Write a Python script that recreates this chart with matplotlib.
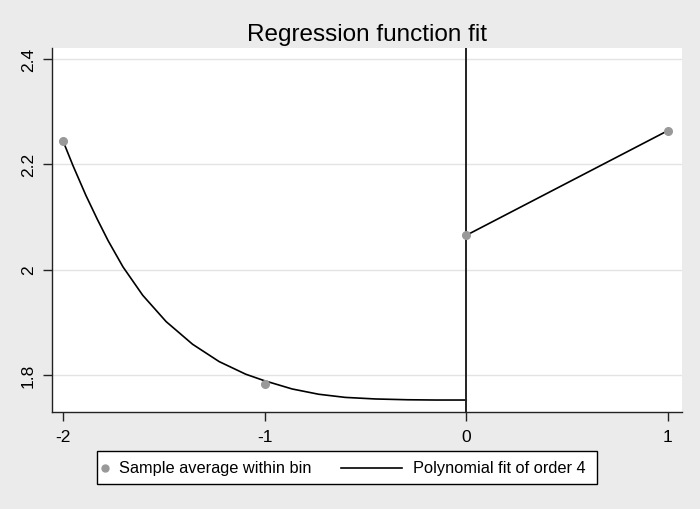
import matplotlib.pyplot as plt
from matplotlib.patches import Rectangle

plt.rcParams['font.family'] = ['Liberation Sans', 'DejaVu Sans']

# bin averages
bin_x = [-2, -1, 0, 1]
bin_y = [2.245, 1.782, 2.065, 2.264]

# polynomial fit, left of cutoff
fit_left_x = [-2, -1.95, -1.886, -1.83, -1.776, -1.702, -1.604, -1.488, -1.357,
              -1.225, -1.093, -1.003, -0.863, -0.732, -0.6, -0.45, -0.29, -0.15, 0]
fit_left_y = [2.245, 2.1975, 2.141, 2.096, 2.055, 2.005, 1.951, 1.901, 1.858,
              1.825, 1.801, 1.789, 1.773, 1.763, 1.757, 1.754, 1.7525, 1.752, 1.752]

# fit right of cutoff
fit_right_x = [0, 1]
fit_right_y = [2.065, 2.264]

xticks = [-2, -1, 0, 1]
yticks = [1.8, 2.0, 2.2, 2.4]
ytick_labels = ['1.8', '2', '2.2', '2.4']
legend_labels = ['Sample average within bin', 'Polynomial fit of order 4']

bg = '#ebebeb'
dot = '#999999'
fig = plt.figure(figsize=(7, 5.1), dpi=100, facecolor=bg)
ax = fig.add_axes([52 / 700, 1 - 412.6 / 510, 630 / 700, 363.6 / 510])
ax.set_facecolor('white')

for y in yticks:
    ax.axhline(y, color='#e3e3e3', lw=1.0, zorder=0)

ax.plot(fit_left_x, fit_left_y, color='black', lw=1.2, zorder=2)
ax.plot(fit_right_x, fit_right_y, color='black', lw=1.2, zorder=2)
ax.axvline(0, color='#222222', lw=1.4, zorder=2)
ax.plot(bin_x, bin_y, 'o', color=dot, ms=5.5, mec=dot, zorder=3, clip_on=False)

ax.set_xlim(-2.054, 1.07)
ax.set_ylim(1.73, 2.421)
ax.set_xticks(xticks)
ax.set_xticklabels([str(v) for v in xticks])
ax.set_yticks(yticks)
ax.set_yticklabels(ytick_labels, rotation=90, va='center')

for s in ['top', 'right']:
    ax.spines[s].set_visible(False)
for s in ['left', 'bottom']:
    ax.spines[s].set_color('#222222')
    ax.spines[s].set_linewidth(1.0)
ax.tick_params(direction='out', length=6.5, width=1.0, color='#222222',
               labelsize=12.5)
ax.tick_params(axis='x', pad=6)
ax.tick_params(axis='y', pad=5)

ax.set_title('Regression function fit', fontsize=17.5, pad=6)

# legend box drawn in pixel space, Stata style
lax = fig.add_axes([0, 0, 1, 1], zorder=-1)
lax.set_xlim(0, 700)
lax.set_ylim(510, 0)
lax.axis('off')
lax.add_patch(Rectangle((97, 452), 500, 33, facecolor='white', edgecolor='black', lw=1.0))
lax.plot([105], [468.5], 'o', color=dot, ms=5)
lax.text(119, 468.5, legend_labels[0], fontsize=11.8, va='center', ha='left')
lax.plot([341, 402], [468.5, 468.5], color='black', lw=1.2)
lax.text(413, 468.5, legend_labels[1], fontsize=11.8, va='center', ha='left')

fig.savefig('out.png', dpi=100, facecolor=bg)
